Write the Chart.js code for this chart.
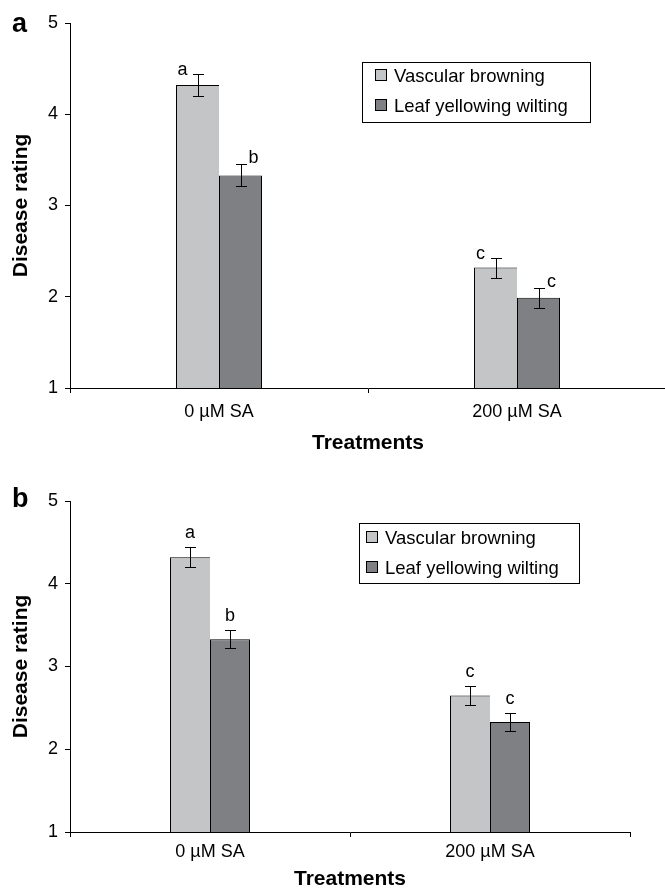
<!DOCTYPE html>
<html>
<head>
<meta charset="utf-8">
<script src="https://cdn.jsdelivr.net/npm/chart.js@4.4.0/dist/chart.umd.min.js"></script>
<style>
html, body { margin:0; padding:0; background:#fff; overflow:hidden; width:665px; height:888px; }
canvas { position:absolute; left:0; }
#chart_a { top:0; }
#chart_b { top:460px; }
</style>
</head>
<body>
<canvas id="chart_a" width="670" height="460"></canvas>
<canvas id="chart_b" width="665" height="432"></canvas>
<script>
// data
const treatments = ['0 \u00b5M SA', '200 \u00b5M SA'];
const series_names = ['Vascular browning', 'Leaf yellowing wilting'];
const y_ticks = [1, 2, 3, 4, 5];

// panel a
const browning_a = [4.32, 2.32];
const browning_err_a = [0.12, 0.11];
const browning_letters_a = ['a', 'c'];
const wilting_a = [3.33, 1.99];
const wilting_err_a = [0.12, 0.11];
const wilting_letters_a = ['b', 'c'];

// panel b
const browning_b = [4.32, 2.65];
const browning_err_b = [0.12, 0.12];
const browning_letters_b = ['a', 'c'];
const wilting_b = [3.33, 2.33];
const wilting_err_b = [0.11, 0.11];
const wilting_letters_b = ['b', 'c'];

const FONT = '"Liberation Sans", Arial, sans-serif';
const LIGHT = '#c4c5c7';
const DARK = '#7f8083';

const error_bars = {
  id: 'error_bars',
  afterDatasetsDraw(chart) {
    const ctx = chart.ctx, y = chart.scales.y;
    const opts = chart.options.plugins.error_bars;
    chart.data.datasets.forEach((ds, i) => {
      chart.getDatasetMeta(i).data.forEach((bar, j) => {
        const v = ds.data[j], e = ds.errors[j];
        const top = Math.round(y.getPixelForValue(v + e)) + 0.5;
        const bot = Math.round(y.getPixelForValue(v - e)) + 0.5;
        const x = Math.round(bar.x) + 0.5;
        ctx.save();
        ctx.strokeStyle = '#000';
        ctx.lineWidth = 1;
        ctx.beginPath();
        ctx.moveTo(x, top); ctx.lineTo(x, bot);
        ctx.moveTo(x - 5.5, top); ctx.lineTo(x + 5.5, top);
        ctx.moveTo(x - 5.5, bot); ctx.lineTo(x + 5.5, bot);
        ctx.stroke();
        ctx.fillStyle = '#000';
        ctx.font = '18px ' + FONT;
        ctx.textAlign = 'center';
        ctx.textBaseline = 'alphabetic';
        ctx.fillText(ds.letters[j], bar.x + opts.dx[i], top + opts.dy[i]);
        ctx.restore();
      });
    });
  }
};

const box_legend = {
  id: 'box_legend',
  afterDraw(chart) {
    const o = chart.options.plugins.box_legend;
    const ctx = chart.ctx;
    ctx.save();
    ctx.strokeStyle = '#000';
    ctx.lineWidth = 1;
    ctx.strokeRect(o.x + 0.5, o.y + 0.5, o.w, o.h);
    chart.data.datasets.forEach((ds, i) => {
      const cy = o.y + o.rows[i];
      ctx.fillStyle = ds.backgroundColor;
      ctx.fillRect(o.x + o.sq_x, cy - 6, 12, 12);
      ctx.strokeRect(o.x + o.sq_x + 0.5, cy - 5.5, 11, 11);
      ctx.fillStyle = '#000';
      ctx.font = '18.5px ' + FONT;
      ctx.textAlign = 'left';
      ctx.textBaseline = 'middle';
      ctx.fillText(ds.label, o.x + o.text_x, cy + 1.5);
    });
    ctx.restore();
  }
};

const panel_letter = {
  id: 'panel_letter',
  afterDraw(chart) {
    const o = chart.options.plugins.panel_letter;
    const ctx = chart.ctx;
    ctx.save();
    ctx.fillStyle = '#000';
    ctx.font = 'bold 27px ' + FONT;
    ctx.textAlign = 'left';
    ctx.textBaseline = 'alphabetic';
    ctx.fillText(o.text, o.x, o.y);
    ctx.restore();
  }
};

function make_panel(canvas_id, browning, browning_err, browning_letters,
                    wilting, wilting_err, wilting_letters, cfg) {
  return new Chart(document.getElementById(canvas_id), {
    type: 'bar',
    data: {
      labels: treatments,
      datasets: [{
        label: series_names[0],
        data: browning,
        errors: browning_err,
        letters: browning_letters,
        backgroundColor: LIGHT,
        borderColor: '#000',
        borderWidth: {top: 1, left: 1, right: 0, bottom: 0},
        barThickness: cfg.bar,
        inflateAmount: 0
      }, {
        label: series_names[1],
        data: wilting,
        errors: wilting_err,
        letters: wilting_letters,
        backgroundColor: DARK,
        borderColor: '#000',
        borderWidth: {top: 1, left: 1, right: 1, bottom: 0},
        barThickness: cfg.bar,
        inflateAmount: 0
      }]
    },
    options: {
      responsive: false,
      animation: false,
      layout: { padding: { top: cfg.top, right: cfg.right, left: 0, bottom: 0 } },
      plugins: {
        legend: { display: false },
        tooltip: { enabled: false },
        error_bars: cfg.letters,
        box_legend: cfg.legend,
        panel_letter: cfg.panel
      },
      scales: {
        x: {
          grid: { display: true, drawOnChartArea: false, drawTicks: true, tickLength: 5, color: '#000', offset: true },
          border: { display: true, color: '#000', width: 1 },
          ticks: { color: '#000', font: { family: FONT, size: 18 }, padding: cfg.x_pad, maxRotation: 0 },
          title: { display: true, text: 'Treatments', color: '#000',
                   font: { family: FONT, size: 21, weight: 'bold' }, padding: { top: 0, bottom: cfg.title_pad } },
          afterFit(scale) { scale.height = cfg.x_height; }
        },
        y: {
          min: y_ticks[0],
          max: y_ticks[y_ticks.length - 1],
          grid: { display: true, drawOnChartArea: false, drawTicks: true, tickLength: 5, color: '#000' },
          border: { display: true, color: '#000', width: 1 },
          ticks: { stepSize: 1, color: '#000', font: { family: FONT, size: 18 }, padding: 7 },
          title: { display: true, text: 'Disease rating', color: '#000',
                   font: { family: FONT, size: 21, weight: 'bold' }, padding: { top: 9, bottom: 0 } },
          afterFit(scale) { scale.width = 70; }
        }
      }
    },
    plugins: [error_bars, box_legend, panel_letter]
  });
}

make_panel('chart_a', browning_a, browning_err_a, browning_letters_a,
           wilting_a, wilting_err_a, wilting_letters_a, {
  top: 23, right: 4, x_height: 72, x_pad: 8, title_pad: 4, bar: 43,
  letters: { dx: [-15, 13], dy: [0, -2] },
  legend: { x: 362, y: 62, w: 228, h: 60, sq_x: 13, text_x: 32, rows: [13, 43] },
  panel: { text: 'a', x: 12, y: 32 }
});

make_panel('chart_b', browning_b, browning_err_b, browning_letters_b,
           wilting_b, wilting_err_b, wilting_letters_b, {
  top: 41, right: 35, x_height: 60, x_pad: 4, title_pad: 0, bar: 40,
  letters: { dx: [0, 0], dy: [-10, -10] },
  legend: { x: 359, y: 63, w: 220, h: 60, sq_x: 7, text_x: 26, rows: [14, 44] },
  panel: { text: 'b', x: 12, y: 47 }
});
</script>
</body>
</html>
